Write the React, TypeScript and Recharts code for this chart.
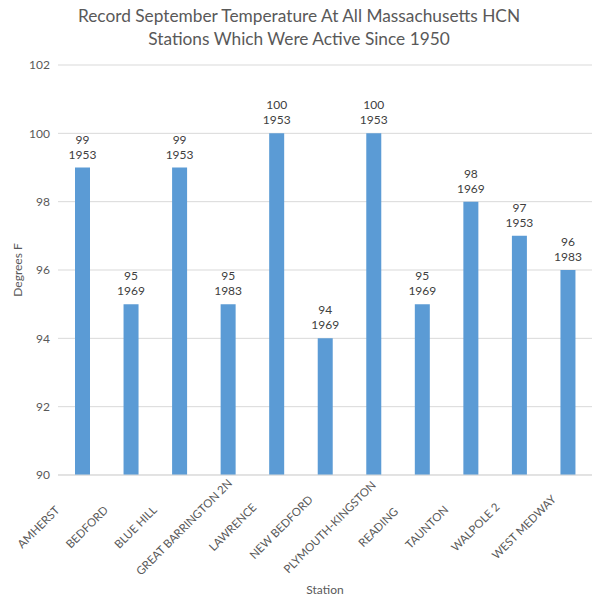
import React from 'react';
import { BarChart, Bar, XAxis, YAxis, CartesianGrid, LabelList } from 'recharts';

const stations = ['AMHERST', 'BEDFORD', 'BLUE HILL', 'GREAT BARRINGTON 2N', 'LAWRENCE', 'NEW BEDFORD', 'PLYMOUTH-KINGSTON', 'READING', 'TAUNTON', 'WALPOLE 2', 'WEST MEDWAY'];
const temps = [99, 95, 99, 95, 100, 94, 100, 95, 98, 97, 96];
const years = [1953, 1969, 1953, 1983, 1953, 1969, 1953, 1969, 1969, 1953, 1983];
const yTicks = [90, 92, 94, 96, 98, 100, 102];

const data = stations.map((s, i) => ({ station: s, temp: temps[i], year: years[i] }));

const FONT = 'Lato, "Open Sans", sans-serif';
const GREY = '#595959';

const StationTick = (props: any) => {
  const { x, y, payload } = props;
  // rotated labels are centred on a common line, like the original chart
  return (
    <text
      transform={`translate(${x - 43},${y + 45}) rotate(-45)`}
      textAnchor="middle"
      dominantBaseline="middle"
      fontSize={11.4}
      fontFamily={FONT}
      fill={GREY}
    >
      {payload.value}
    </text>
  );
};

const TwoLineLabel = (props: any) => {
  const { x, y, width, index } = props;
  const cx = x + width / 2;
  return (
    <g fontFamily={FONT} fontSize={12} fill="#404040" textAnchor="middle">
      <text x={cx} y={y - 24}>{temps[index]}</text>
      <text x={cx} y={y - 9}>{years[index]}</text>
    </g>
  );
};

export default function App() {
  return (
    <div style={{ position: 'absolute', left: 0, top: 0, width: 598, height: 600, background: '#fff' }}>
      <div
        style={{
          position: 'absolute', left: 0, top: 4, width: 598, textAlign: 'center',
          fontFamily: FONT, fontSize: 17.3, lineHeight: '23px', color: GREY,
        }}
      >
        Record September Temperature At All Massachusetts HCN
        <br />
        Stations Which Were Active Since 1950
      </div>
      <BarChart width={598} height={600} data={data} margin={{ top: 65, right: 6, left: 0, bottom: 0 }}>
        <CartesianGrid vertical={false} stroke="#D9D9D9" />
        <XAxis
          dataKey="station"
          height={125}
          interval={0}
          tickLine={false}
          axisLine={{ stroke: '#D9D9D9' }}
          tick={<StationTick />}
          label={{
            content: () => (
              <text x={325} y={594} textAnchor="middle" fontFamily={FONT} fontSize={12} fill={GREY}>Station</text>
            ),
          }}
        />
        <YAxis
          width={58}
          domain={[90, 102]}
          ticks={yTicks}
          tickLine={false}
          axisLine={false}
          tick={{ fontFamily: FONT, fontSize: 12, fill: GREY }}
          label={{
            content: () => (
              <text transform="translate(22,270) rotate(-90)" textAnchor="middle" fontFamily={FONT} fontSize={12} fill={GREY}>Degrees F</text>
            ),
          }}
        />
        <Bar dataKey="temp" fill="#5B9BD5" barSize={15} isAnimationActive={false}>
          <LabelList dataKey="temp" content={<TwoLineLabel />} />
        </Bar>
      </BarChart>
    </div>
  );
}
